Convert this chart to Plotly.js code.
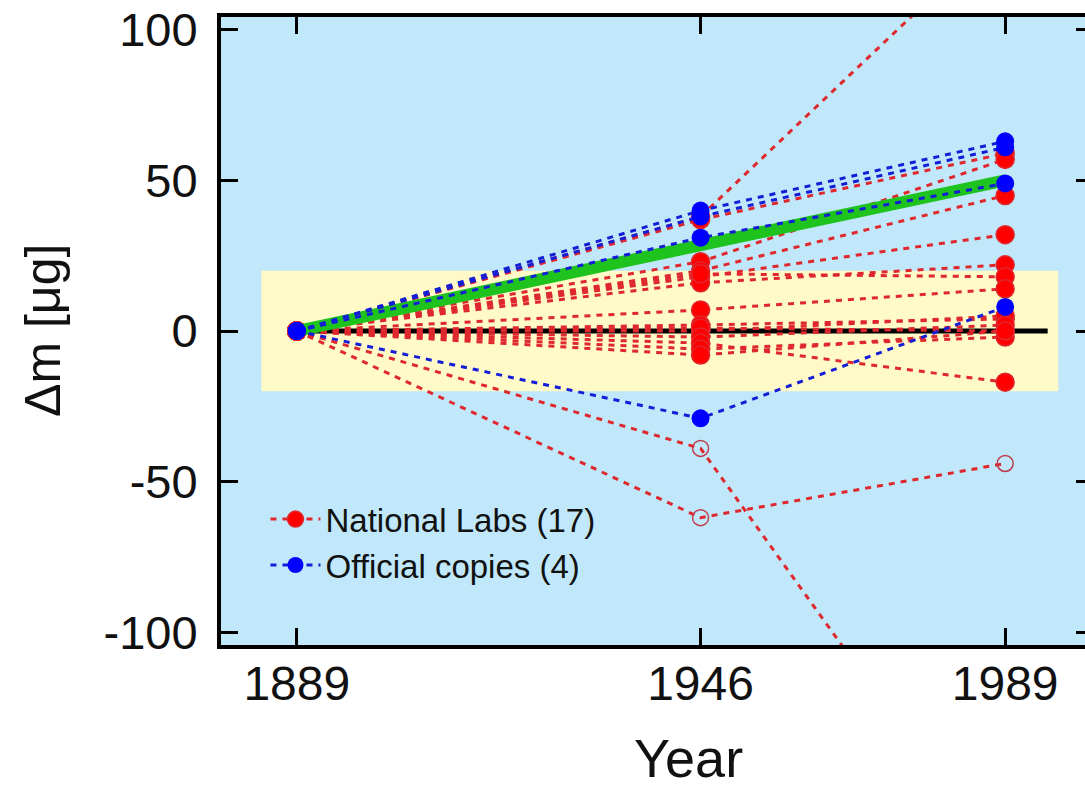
<!DOCTYPE html>
<html>
<head>
<meta charset="utf-8">
<script src="https://cdn.plot.ly/plotly-3.0.1.min.js"></script>
<style>
html, body { margin:0; padding:0; overflow:hidden; background:#ffffff; }
#chart { width:1100px; height:794px; }
</style>
</head>
<body>
<div id="chart"></div>
<script>
// ---- data ----
var years = [1889, 1946, 1989];
var labs1889 = [0, 0, 0, 0, 0, 0, 0, 0, 0, 0, 0, 0, 0, 0, 0, 0, 0];
var labs1946 = [38, 37, 23, 20, 18, 16, 19, 7, 2, 0, 1, -2, -4, -6, -8, -39, -62];
var labs1989 = [134, 59, 57, 45, 32, 22, 18, 14, 4, 5, 0, 2, -17, -2, 0, -180, -44];
var copies1889 = [0, 0, 0, 0];
var copies1946 = [40, 38, 31, -29];
var copies1989 = [63, 61, 49, 8];
var trendYears = [1889, 1989];
var trendValues = [0, 50];
var refYears = [1889, 1995];
var refValues = [0, 0];
var bandYears = [1884, 1996.5];
var bandValues = [-20, 20];
var labsName = "National Labs (17)";
var copiesName = "Official copies (4)";
var xTicks = [1889, 1946, 1989];
var yTicks = [-100, -50, 0, 50, 100];

// ---- styling / build ----
var FONT = "Liberation Sans, Arial, sans-serif";
var RED_LINE = "rgb(222,40,45)";
var RED_DOT = "rgb(255,0,0)";
var OPEN_RING = "rgb(190,60,75)";
var BLUE_LINE = "rgb(20,30,215)";
var BLUE_DOT = "rgb(0,0,255)";
// points drawn as open rings: [lab index, year index]
var openPts = {"15_1": true, "16_1": true, "16_2": true};

var traces = [];
traces.push({
  x: refYears, y: refValues, mode: "lines", type: "scatter",
  line: {color: "#000000", width: 5}, showlegend: false, hoverinfo: "skip"
});
for (var i = 0; i < labs1946.length; i++) {
  var vals = [labs1889[i], labs1946[i], labs1989[i]];
  var sym = [], col = [], sz = [];
  for (var j = 0; j < 3; j++) {
    if (openPts[i + "_" + j]) { sym.push("circle-open"); col.push(OPEN_RING); sz.push(16); }
    else { sym.push("circle"); col.push(RED_DOT); sz.push(18); }
  }
  traces.push({
    x: years, y: vals, mode: "lines+markers", type: "scatter",
    name: labsName, legendgroup: "labs", showlegend: i === 0,
    line: {color: RED_LINE, width: 3, dash: "6px,6px"},
    marker: {symbol: sym, color: col, size: sz, opacity: 1, line: {width: 1.5}}
  });
}
traces.push({
  x: trendYears, y: trendValues, mode: "lines", type: "scatter",
  line: {color: "rgb(30,195,30)", width: 12}, showlegend: false, hoverinfo: "skip"
});
for (var k = 0; k < copies1946.length; k++) {
  traces.push({
    x: years, y: [copies1889[k], copies1946[k], copies1989[k]],
    mode: "lines+markers", type: "scatter",
    name: copiesName, legendgroup: "copies", showlegend: k === 0,
    line: {color: BLUE_LINE, width: 3, dash: "6px,6px"},
    marker: {symbol: "circle", color: BLUE_DOT, size: 18, opacity: 1}
  });
}

var layout = {
  width: 1100, height: 794,
  margin: {l: 221, r: 7, t: 17, b: 149},
  paper_bgcolor: "#ffffff",
  plot_bgcolor: "rgb(192,232,250)",
  font: {family: FONT, color: "#111111"},
  showlegend: true,
  legend: {
    x: 0.051, y: 0.245, xanchor: "left", yanchor: "top",
    bgcolor: "rgba(0,0,0,0)", font: {size: 33, family: FONT, color: "#111111"},
    tracegroupgap: 0, itemwidth: 50
  },
  xaxis: {
    range: [1878.3, 2001.4], tickvals: xTicks, ticktext: xTicks.map(String),
    showgrid: false, zeroline: false,
    showline: true, linewidth: 4, linecolor: "#000000", mirror: "ticks",
    ticks: "inside", ticklen: 17, tickwidth: 3, tickcolor: "#000000",
    tickfont: {size: 48, family: FONT, color: "#111111"}, ticklabelstandoff: -7
  },
  yaxis: {
    range: [-104.3, 104.3], tickvals: yTicks, ticktext: yTicks.map(String),
    showgrid: false, zeroline: false,
    showline: true, linewidth: 4, linecolor: "#000000", mirror: "ticks",
    ticks: "inside", ticklen: 17, tickwidth: 3, tickcolor: "#000000",
    tickfont: {size: 47, family: FONT, color: "#111111"}, ticklabelstandoff: 10
  },
  shapes: [{
    type: "rect", xref: "x", yref: "y", layer: "below",
    x0: bandYears[0], x1: bandYears[1], y0: bandValues[0], y1: bandValues[1],
    fillcolor: "rgb(255,250,200)", line: {width: 0}
  }],
  annotations: [
    {text: "Year", xref: "paper", yref: "paper", x: (688 - 221) / 872, y: (645 - 758) / 628,
     xanchor: "center", yanchor: "middle", showarrow: false,
     font: {size: 54, family: FONT, color: "#111111"}},
    {text: "Δm [μg]", xref: "paper", yref: "paper", x: (43 - 221) / 872, y: 0.5,
     xanchor: "center", yanchor: "middle", showarrow: false, textangle: -90,
     font: {size: 50, family: FONT, color: "#111111"}}
  ]
};

Plotly.newPlot("chart", traces, layout, {displayModeBar: false, staticPlot: true});
</script>
</body>
</html>
